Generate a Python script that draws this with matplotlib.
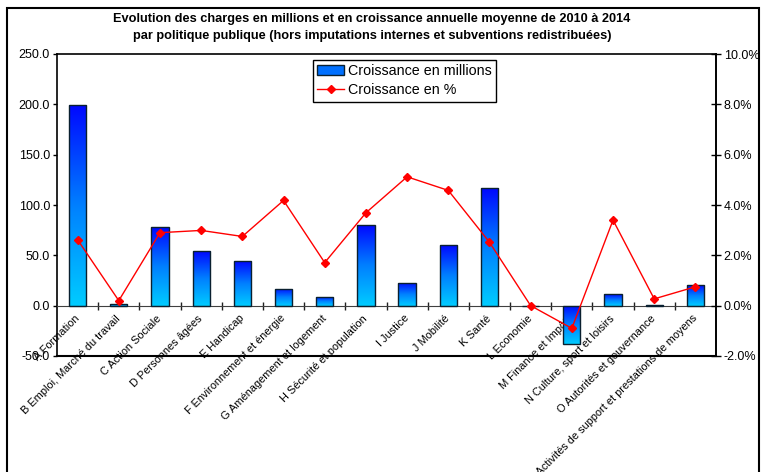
import numpy as np
import matplotlib
matplotlib.use("Agg")
import matplotlib.pyplot as plt
from matplotlib.colors import LinearSegmentedColormap
from matplotlib.patches import Rectangle
from matplotlib.lines import Line2D
from matplotlib.ticker import FuncFormatter, MultipleLocator, FixedLocator

plt.rcParams['font.family'] = ['Liberation Sans', 'DejaVu Sans']

# donnees
categories = ["A Formation", "B Emploi, Marché du travail", "C Action Sociale",
              "D Personnes âgées", "E Handicap", "F Environnement et énergie",
              "G Aménagement et logement", "H Sécurité et population", "I Justice",
              "J Mobilité", "K Santé", "L Economie", "M Finance et Impôts",
              "N Culture, sport et loisirs", "O Autorités et gouvernance",
              "P Activités de support et prestations de moyens"]
croissance_millions = [199.0, 1.5, 78.0, 54.5, 44.3, 17.0, 9.0, 80.0, 23.0,
                       60.0, 116.5, 0.0, -38.0, 11.3, 0.6, 20.2]
croissance_pct = [2.62, 0.20, 2.90, 2.99, 2.75, 4.18, 1.71, 3.69, 5.12,
                  4.58, 2.52, 0.0, -0.90, 3.40, 0.27, 0.75]
titre = ("Evolution des charges en millions et en croissance annuelle moyenne de 2010 à 2014\n"
         "par politique publique (hors imputations internes et subventions redistribuées)")

x = np.arange(len(categories))
largeur = 0.42

fig = plt.figure(figsize=(7.62, 4.72), dpi=100)
ax = fig.add_axes([57/762, 1 - 356/472, 659/762, 302/472])

# cadre exterieur
fig.patches.append(Rectangle((7/762, -0.05), 752/762, 1.05 - 8/472, transform=fig.transFigure,
                             fill=False, edgecolor='black', linewidth=1.5))

fig.text(0.488, 1 - 27.5/472, titre, ha='center', va='center', fontsize=9.2,
         fontweight='bold', linespacing=1.5)

# barres avec degrade bleu -> cyan
cmap = LinearSegmentedColormap.from_list("bleu", ["#0008FF", "#0080FF", "#00CCFF"])
grad = np.linspace(0, 1, 256).reshape(-1, 1)
barres = ax.bar(x, croissance_millions, largeur, facecolor='none',
                edgecolor='#0a2030', linewidth=1.0, zorder=3)
for b in barres:
    y0 = b.get_y()
    y1 = y0 + b.get_height()
    im = ax.imshow(grad, extent=(b.get_x(), b.get_x() + b.get_width(), min(y0, y1), max(y0, y1)),
                   cmap=cmap, aspect='auto', origin='upper', zorder=2, interpolation='bilinear')
    im.set_clip_path(b)

ax.set_xlim(-0.5, len(categories) - 0.5)
ax.set_ylim(-50, 250)
ax.set_aspect('auto')
ax.yaxis.set_major_locator(MultipleLocator(50))
ax.yaxis.set_major_formatter(FuncFormatter(lambda v, p: "%.1f" % v))
ax.tick_params(axis='y', direction='out', length=3, width=1, labelsize=9, pad=2)

# axe des x a zero
ax.spines['bottom'].set_position(('data', 0))
ax.spines['bottom'].set_color('#404040')
ax.axhline(-50, color='black', linewidth=1.5, clip_on=False, zorder=5)
for s in ['left', 'top', 'right']:
    ax.spines[s].set_linewidth(1.2)
ax.xaxis.set_major_locator(FixedLocator(x))
ax.xaxis.set_minor_locator(FixedLocator(x[:-1] + 0.5))
ax.set_xticklabels(categories, rotation=45, ha='right', va='center',
                   rotation_mode='anchor', fontsize=7.9)
ax.tick_params(axis='x', which='major', length=0, pad=8)
ax.tick_params(axis='x', which='minor', direction='inout', length=6, width=1, color='#202020')

# courbe en %
ax2 = ax.twinx()
ax2.plot(x, croissance_pct, color='red', linewidth=1.0, marker='D', markersize=4.5, zorder=5)
ax2.set_ylim(-2, 10)
ax2.yaxis.set_major_locator(MultipleLocator(2))
ax2.yaxis.set_major_formatter(FuncFormatter(lambda v, p: "%.1f%%" % v))
ax2.tick_params(axis='y', direction='inout', length=7, width=1, labelsize=9, pad=2)
for s in ax2.spines.values():
    s.set_visible(False)
ax2.spines['right'].set_visible(True)
ax2.spines['right'].set_linewidth(1.2)

handles = [Rectangle((0, 0), 1, 1, facecolor='#0070FF', edgecolor='#0a2030'),
           Line2D([], [], color='red', linewidth=1.0, marker='D', markersize=4.5)]
leg = ax2.legend(handles, ["Croissance en millions", "Croissance en %"], loc='upper left',
                 bbox_to_anchor=(0.388, 0.98), fontsize=10.3, fancybox=False, framealpha=1,
                 edgecolor='black', borderpad=0.3, labelspacing=0.35, handlelength=1.9,
                 handletextpad=0.3, borderaxespad=0)
leg.get_frame().set_linewidth(1.0)

fig.savefig("out.png", dpi=100)
